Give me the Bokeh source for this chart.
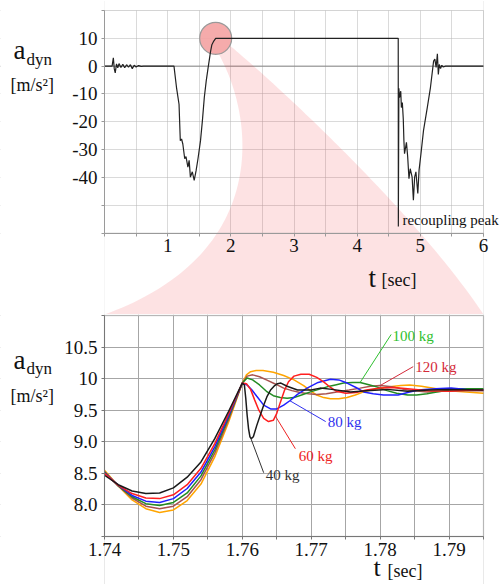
import numpy as np
from bokeh.plotting import figure
from bokeh.layouts import column
from bokeh.models import (Range1d, FixedTicker, Label, Span, BoxAnnotation,
                          PolyAnnotation)
from bokeh.embed import file_html
from bokeh.resources import INLINE

FONT = "Liberation Serif"

# ---------------- overview: full coupling / recoupling record ----------------
t_overview = [0.00, 0.12, 0.14, 0.155, 0.17, 0.19, 0.21, 0.23, 0.26, 0.29,
              0.32, 0.35, 0.38, 0.41, 0.44, 0.47, 0.50, 0.54, 0.58, 0.62,
              1.10, 1.14, 1.18, 1.20, 1.22, 1.24, 1.27, 1.29, 1.32, 1.34,
              1.36, 1.39, 1.42, 1.45, 1.48, 1.52, 1.55, 1.58, 1.61, 1.64,
              1.68, 1.70, 1.73, 1.76,
              4.65, 4.652, 4.66, 4.67, 4.69, 4.70, 4.715, 4.73, 4.74, 4.75,
              4.78, 4.80, 4.82, 4.84, 4.87, 4.89, 4.91, 4.93, 4.96, 4.98,
              5.01, 5.05, 5.11, 5.16, 5.21, 5.23, 5.25, 5.27, 5.285, 5.30,
              5.32, 5.34, 5.36, 5.40, 6.00]
a_overview = [0, 0, 3.0, -1.0, -2.4, 0.8, -0.6, 0.9, -0.5, 0.7,
              -0.6, 0.5, -0.4, 0.5, -0.9, 0.3, -0.3, 0.2, -0.1, 0,
              0, -7.7, -13.7, -26.8, -26.2, -28.0, -33.3, -32.5, -36.3, -33.9,
              -39.9, -38.0, -41.1, -37.6, -33.3, -26.8, -19.6, -11.3, -5.4, -0.6,
              5.4, 7.7, 9.0, 10.0,
              10.0, -57.7, -8.0, -11.3, -9.0, -14.9, -13.1, -19.0, -26.8, -31.5,
              -27.4, -32.7, -40.5, -36.9, -39.9, -48.2, -39.9, -38.0, -45.8, -37.4,
              -31.5, -23.2, -14.9, -7.7, 1.8, 2.5, -0.5, 4.4, -3.0, 0.6,
              -0.9, 0.3, -0.3, 0, 0]

overview_x_ticks = [1, 2, 3, 4, 5, 6]
overview_x_minor = [0, 0.5, 1.5, 2.5, 3.5, 4.5, 5.5, 6]
overview_y_ticks = [-40, -30, -20, -10, 0, 10]
overview_y_minor = [-60, -50, 20]
OV_T0, OV_T1, OV_A0, OV_A1 = 0, 6, -60, 20
ZOOM_T, ZOOM_A = 1.76, 10.0          # location of the magnified window

# ---------------- zoom: 1.74 .. 1.795 s, per mass ----------------
t_rise = [1.740, 1.742, 1.744, 1.746, 1.748, 1.750, 1.752, 1.754, 1.756, 1.758]

t40 = t_rise + [1.760, 1.7603, 1.7605, 1.7607, 1.7609, 1.7611, 1.7613, 1.7616, 1.7621, 1.7626,
                1.7631, 1.7636, 1.7641, 1.7646, 1.7651, 1.7656, 1.7665, 1.768, 1.770, 1.7713,
                1.773, 1.7757, 1.778, 1.781, 1.784, 1.787, 1.790, 1.795]
a40 = [8.47, 8.32, 8.22, 8.18, 8.19, 8.27, 8.44, 8.68, 9.05, 9.48,
       9.93, 9.90, 9.69, 9.42, 9.21, 9.08, 9.05, 9.08, 9.26, 9.42,
       9.58, 9.72, 9.82, 9.88, 9.92, 9.93, 9.88, 9.82, 9.82, 9.85,
       9.83, 9.79, 9.81, 9.83, 9.80, 9.82, 9.83, 9.82]

t60 = t_rise + [1.760, 1.7606, 1.7612, 1.7618, 1.7624, 1.7631, 1.7638, 1.7645, 1.7650, 1.7655,
                1.7661, 1.7667, 1.7675, 1.7685, 1.7697, 1.7708, 1.7718, 1.7728, 1.7737, 1.7750,
                1.7765, 1.778, 1.780, 1.782, 1.784, 1.787, 1.790, 1.793, 1.795]
a60 = [8.50, 8.31, 8.18, 8.11, 8.10, 8.16, 8.32, 8.58, 8.97, 9.44,
       9.93, 9.92, 9.83, 9.66, 9.50, 9.37, 9.32, 9.34, 9.45, 9.62,
       9.81, 9.95, 10.04, 10.07, 10.07, 10.02, 9.95, 9.86, 9.80, 9.77,
       9.78, 9.82, 9.85, 9.86, 9.84, 9.81, 9.80, 9.82, 9.82]

t80 = t_rise + [1.760, 1.7607, 1.7614, 1.7621, 1.7631, 1.7641, 1.7650, 1.7660, 1.7669, 1.7680,
                1.7694, 1.7710, 1.7728, 1.7740, 1.7752, 1.7765, 1.7776, 1.7790, 1.7805, 1.7826,
                1.7840, 1.7855, 1.7880, 1.7903, 1.7925, 1.795]
a80 = [8.51, 8.31, 8.15, 8.06, 8.04, 8.10, 8.26, 8.52, 8.92, 9.41,
       9.93, 9.90, 9.82, 9.72, 9.58, 9.52, 9.52, 9.58, 9.65, 9.75,
       9.85, 9.94, 9.99, 9.98, 9.93, 9.86, 9.79, 9.76, 9.74, 9.74,
       9.78, 9.82, 9.84, 9.85, 9.83, 9.82]

t100 = t_rise + [1.760, 1.7607, 1.7615, 1.7625, 1.7635, 1.7645, 1.7655, 1.7665, 1.7675, 1.7688,
                 1.7699, 1.7711, 1.7723, 1.7735, 1.7747, 1.7760, 1.7771, 1.7785, 1.7795, 1.7810,
                 1.7824, 1.7840, 1.7853, 1.7868, 1.7882, 1.7900, 1.7911, 1.7930, 1.795]
a100 = [8.52, 8.30, 8.13, 8.02, 7.99, 8.04, 8.19, 8.46, 8.87, 9.38,
        9.93, 10.01, 9.98, 9.90, 9.80, 9.73, 9.70, 9.69, 9.70, 9.75,
        9.79, 9.83, 9.87, 9.90, 9.93, 9.94, 9.94, 9.90, 9.87, 9.81,
        9.77, 9.74, 9.74, 9.76, 9.79, 9.82, 9.84, 9.84, 9.84]

t120 = t_rise + [1.760, 1.7607, 1.7615, 1.7625, 1.7635, 1.7647, 1.7660, 1.7672, 1.7684, 1.7696,
                 1.7708, 1.7722, 1.7737, 1.7755, 1.7771, 1.7786, 1.7800, 1.7817, 1.7834, 1.7850,
                 1.7868, 1.7890, 1.7920, 1.795]
a120 = [8.53, 8.30, 8.11, 7.98, 7.94, 7.98, 8.13, 8.40, 8.82, 9.35,
        9.93, 10.04, 10.06, 10.03, 9.98, 9.92, 9.85, 9.81, 9.78, 9.76,
        9.75, 9.76, 9.79, 9.82, 9.85, 9.88, 9.89, 9.87, 9.83, 9.81,
        9.79, 9.80, 9.81, 9.81]

t_orange = t_rise + [1.760, 1.7606, 1.7612, 1.7620, 1.7630, 1.7645, 1.7660, 1.7675, 1.7689, 1.7700,
                     1.7708, 1.7718, 1.7728, 1.7740, 1.7752, 1.7764, 1.7776, 1.7790, 1.7814, 1.7830,
                     1.7843, 1.7860, 1.7882, 1.7900, 1.7925, 1.795]
a_orange = [8.55, 8.30, 8.08, 7.94, 7.88, 7.92, 8.07, 8.33, 8.76, 9.31,
            9.93, 10.06, 10.11, 10.13, 10.13, 10.10, 10.05, 9.98, 9.89, 9.80,
            9.74, 9.70, 9.68, 9.68, 9.70, 9.74, 9.79, 9.83, 9.87, 9.89,
            9.90, 9.88, 9.84, 9.81, 9.79, 9.77]

zoom_x_ticks = [1.74, 1.75, 1.76, 1.77, 1.78, 1.79]
zoom_x_minor = [1.745, 1.755, 1.765, 1.775, 1.785, 1.795]
zoom_y_ticks = [8.0, 8.5, 9.0, 9.5, 10.0, 10.5]
zoom_y_minor = [7.5, 11.0]
ZM_T0, ZM_T1, ZM_A0, ZM_A1 = 1.74, 1.795, 7.5, 11.0

# ---------------- geometry (canvas pixels) ----------------
W = 501
H_TOP, H_BOT = 314, 270
PX_L, PX_R = 104, 483                 # plot area, left/right
TOP_PY0, TOP_PY1 = 10, 232.5          # plot area top/bottom of overview
BOT_PY0, BOT_PY1 = 1, 222             # plot area top/bottom of zoom (in its canvas)
TOP_UY = (OV_A1 - OV_A0) / (TOP_PY1 - TOP_PY0)   # data units per pixel
BOT_UY = (ZM_A1 - ZM_A0) / (BOT_PY1 - BOT_PY0)


def ranges(t0, t1, a0, a1, py0, py1, h):
    ux = (t1 - t0) / (PX_R - PX_L)
    uy = (a1 - a0) / (py1 - py0)
    return (Range1d(t0 - PX_L * ux, t1 + (W - PX_R) * ux),
            Range1d(a0 - (h - py1) * uy, a1 + py0 * uy))


def white_surround(p, t0, t1, a0, a1):
    xr, yr = p.x_range, p.y_range
    for l, r, b, t in ((xr.start, t0, yr.start, yr.end), (t1, xr.end, yr.start, yr.end),
                       (t0, t1, yr.start, a0), (t0, t1, a1, yr.end)):
        p.add_layout(BoxAnnotation(left=l, right=r, bottom=b, top=t, fill_color="white",
                                   fill_alpha=1.0, line_color=None, level="underlay"))


def style_axes(p, color, ticks_x, minor_x, ticks_y, minor_y):
    p.xaxis.ticker = FixedTicker(ticks=ticks_x, minor_ticks=minor_x)
    p.yaxis.ticker = FixedTicker(ticks=ticks_y, minor_ticks=minor_y)
    for ax in (p.xaxis[0], p.yaxis[0]):
        ax.axis_line_color = color
        ax.major_tick_line_color = color
        ax.minor_tick_line_color = color
        ax.major_tick_out = 3
        ax.major_tick_in = 0
        ax.minor_tick_out = 3
        ax.minor_tick_in = 0
        ax.major_label_text_font = FONT
        ax.major_label_text_font_size = "19px"
        ax.major_label_text_color = "#111111"
    p.xaxis.major_label_standoff = 3
    p.yaxis.major_label_standoff = 4


def text(p, txt, x, y, fs, color="#111111", screen=False, uy=1.0):
    # y is the wanted baseline; the label is drawn ~0.33 em lower, so lift it
    shift = 0.33 * fs
    kw = dict(x_units="screen", y_units="screen") if screen else {}
    yy = y + shift if screen else y + shift * uy
    p.add_layout(Label(x=x, y=yy, text=txt, text_font=FONT, text_font_size=f"{fs}px",
                       text_color=color, text_baseline="alphabetic", **kw))


# =============================== overview ===================================
xr, yr = ranges(OV_T0, OV_T1, OV_A0, OV_A1, TOP_PY0, TOP_PY1, H_TOP)
top = figure(width=W, height=H_TOP, output_backend="svg", toolbar_location=None,
             x_range=xr, y_range=yr, min_border=0)
top.outline_line_color = None
top.xaxis.fixed_location = OV_A0
top.yaxis.fixed_location = OV_T0
top.xaxis.bounds = (OV_T0, OV_T1)
top.yaxis.bounds = (OV_A0, OV_A1)
style_axes(top, "#9a9a9a", overview_x_ticks, overview_x_minor, overview_y_ticks, overview_y_minor)
top.yaxis.major_label_overrides = {v: str(v) for v in overview_y_ticks}
for g in (top.xgrid[0], top.ygrid[0]):
    g.grid_line_color = "#b5b5b5"
    g.grid_line_dash = "1 1"
    g.minor_grid_line_color = "#b5b5b5"
    g.minor_grid_line_dash = "1 1"
top.add_layout(Span(location=0, dimension="width", line_color="#8a8a8a", line_width=1,
                    level="underlay"))
white_surround(top, OV_T0, OV_T1, OV_A0, OV_A1)


def bezier(p0, p1, p2, p3, n=80):
    s = np.linspace(0, 1, n)[:, None]
    p0, p1, p2, p3 = (np.array(p, float) for p in (p0, p1, p2, p3))
    pts = (1 - s) ** 3 * p0 + 3 * (1 - s) ** 2 * s * p1 + 3 * (1 - s) * s ** 2 * p2 + s ** 3 * p3
    return pts[:, 0], pts[:, 1]


y_bottom = yr.start
lx, ly = bezier((ZOOM_T + 0.05, ZOOM_A - 5.7), (2.4, -20), (2.6, -68), (OV_T0, y_bottom))
rx, ry = bezier((ZOOM_T + 0.22, ZOOM_A - 2.5), (2.9, -10), (5.0, -55), (OV_T1, y_bottom))
top.add_layout(PolyAnnotation(xs=list(lx) + list(rx[::-1]), ys=list(ly) + list(ry[::-1]),
                              fill_color="#f03c46", fill_alpha=0.15, line_color=None,
                              level="underlay"))

top.scatter([ZOOM_T], [ZOOM_A], marker="circle", size=32, fill_color="#f4a2a2",
            fill_alpha=0.9, line_color="#9a9a9a", line_width=1.2)
top.line(t_overview, a_overview, line_color="#222222", line_width=1.2)
top.add_layout(BoxAnnotation(left=OV_T0, right=OV_T1, bottom=OV_A0, top=OV_A1, fill_color=None,
                             fill_alpha=0, line_color="#9a9a9a", line_width=1))

text(top, "recoupling peak", 4.717, -57.2, 15, uy=TOP_UY)
text(top, "t", 368, 28, 27, screen=True)
text(top, "[sec]", 381, 29, 18, screen=True)
text(top, "a", 13, 256, 27, screen=True)
text(top, "dyn", 26, 249, 17, screen=True)
text(top, "[m/s²]", 10, 224, 18, screen=True)

# =============================== zoom panel =================================
xr2, yr2 = ranges(ZM_T0, ZM_T1, ZM_A0, ZM_A1, BOT_PY0, BOT_PY1, H_BOT)
bot = figure(width=W, height=H_BOT, output_backend="svg", toolbar_location=None,
             x_range=xr2, y_range=yr2, min_border=0)
bot.outline_line_color = None
bot.xaxis.fixed_location = ZM_A0
bot.yaxis.fixed_location = ZM_T0
bot.xaxis.bounds = (ZM_T0, ZM_T1)
bot.yaxis.bounds = (ZM_A0, ZM_A1)
style_axes(bot, "#777777", zoom_x_ticks, zoom_x_minor, zoom_y_ticks, zoom_y_minor)
bot.yaxis.major_label_overrides = {10.0: "10", 10.5: "10.5", 8.0: "8.0", 8.5: "8.5",
                                   9.0: "9.0", 9.5: "9.5"}
for g in (bot.xgrid[0], bot.ygrid[0]):
    g.grid_line_color = "#a6a6a6"
    g.minor_grid_line_color = "#a6a6a6"
    g.grid_line_width = 1
    g.minor_grid_line_width = 1
white_surround(bot, ZM_T0, ZM_T1, ZM_A0, ZM_A1)

series = [
    (t_orange, a_orange, "#ffa500"),
    (t120, a120, "#a8524f"),
    (t100, a100, "#238b23"),
    (t80, a80, "#1f1fff"),
    (t60, a60, "#ff1f1f"),
    (t40, a40, "#1a1a1a"),
]
for tx, ay, col in series:
    bot.line(tx, ay, line_color=col, line_width=1.5)

bot.add_layout(BoxAnnotation(left=ZM_T0, right=ZM_T1, bottom=ZM_A0, top=ZM_A1, fill_color=None,
                             fill_alpha=0, line_color="#777777", line_width=1.3))

# (label, colour, text x, text baseline, leader start x, leader start y, leader target t, series)
labels = [
    ("100 kg", "#2fbf2f", 1.7818, 10.59, 1.7816, 10.70, 1.7771, (t100, a100)),
    ("120 kg", "#d42a3a", 1.7851, 10.11, 1.7848, 10.19, 1.7800, (t120, a120)),
    ("80 kg", "#3030ee", 1.7724, 9.23, 1.7721, 9.32, 1.7669, (t80, a80)),
    ("60 kg", "#ee2222", 1.7682, 8.70, 1.7677, 8.89, 1.7648, (t60, a60)),
    ("40 kg", "#333333", 1.7634, 8.39, 1.7631, 8.51, 1.7612, (t40, a40)),
]
for txt, col, tx, ty, lx0, ly0, tt, (sx, sa) in labels:
    target_a = float(np.interp(tt, sx, sa))
    bot.segment(x0=[lx0], y0=[ly0], x1=[tt], y1=[target_a], line_color=col, line_width=1)
    text(bot, txt, tx, ty, 15, color=col, uy=BOT_UY)

text(bot, "a", 13, 216, 27, screen=True)
text(bot, "dyn", 26, 210, 17, screen=True)
text(bot, "[m/s²]", 10, 183, 18, screen=True)
text(bot, "t", 373, 8, 26, screen=True)
text(bot, "[sec]", 387, 8, 18, screen=True)

layout = column(top, bot, spacing=0)
open("out.html", "w").write(file_html(layout, INLINE))
